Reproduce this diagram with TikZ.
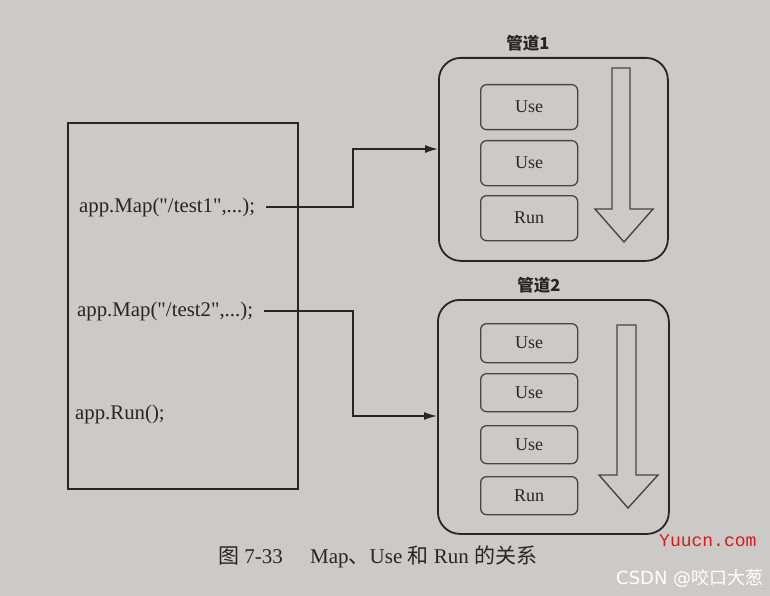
\documentclass[tikz,border=0pt]{standalone}
\usepackage{fontspec}
\setmainfont{Liberation Serif}
\newfontfamily\codefont[Ligatures=NoCommon]{Liberation Serif}
\newfontfamily\cjk{Noto Sans CJK SC}
\newfontfamily\wmsans{DejaVu Sans}
\newfontfamily\wmmono{Liberation Mono}
\usetikzlibrary{arrows.meta}
\definecolor{paper}{RGB}{203,202,199}
\definecolor{ink}{RGB}{38,38,38}
\definecolor{softink}{RGB}{70,70,70}
\definecolor{wmred}{RGB}{230,20,20}
\tikzset{
  codebox/.style={draw=ink, line width=1.8pt, minimum width=230, minimum height=366, anchor=north west, inner sep=0},
  pipebox/.style={draw=ink, line width=1.8pt, rounded corners=22, anchor=north west, inner sep=0},
  stagebox/.style={draw=softink, line width=1.3pt, rounded corners=6, minimum width=97, anchor=north west, inner sep=0, font=\fontsize{18}{20}\selectfont, text=ink},
  codetext/.style={anchor=west, inner sep=0, font=\codefont\fontsize{20.8}{23}\selectfont, text=ink},
  title/.style={inner sep=0, font=\cjk\bfseries\fontsize{16.5}{18}\selectfont, text=ink},
  conn/.style={draw=ink, line width=1.3pt, -{Latex[length=13pt,width=8pt]}},
  flow/.style={draw=softink, line width=1.4pt, line join=miter},
}
\begin{document}
\begin{tikzpicture}[x=1pt,y=-1pt]
\fill[paper] (0,0) rectangle (770,596);
\useasboundingbox (0,0) rectangle (770,596);

% left code box
\node[codebox] (code) at (67,122) {};
\node[codetext] (m1) at (79,207) {app.Map("/test1",...);};
\node[codetext] (m2) at (77,311) {app.Map("/test2",...);};
\node[codetext] (run) at (75,414) {app.Run();};

% pipeline 1
\node[pipebox, minimum width=229, minimum height=203] (p1) at (438,57) {};
\node[title] (t1) at (528,43) {管道1};
\node[stagebox, minimum height=45] (u11) at (480,84) {Use};
\node[stagebox, minimum height=45] (u12) at (480,140) {Use};
\node[stagebox, minimum height=45] (r1) at (480,195) {Run};
\draw[flow] (612,68) -- (630,68) -- (630,209) -- (653,209) -- (624,242) -- (595,209) -- (612,209) -- cycle;

% pipeline 2
\node[pipebox, minimum width=231, minimum height=234] (p2) at (437,299) {};
\node[title] (t2) at (539,285) {管道2};
\node[stagebox, minimum height=39] (u21) at (480,323) {Use};
\node[stagebox, minimum height=38] (u22) at (480,373) {Use};
\node[stagebox, minimum height=38] (u23) at (480,425) {Use};
\node[stagebox, minimum height=38] (r2) at (480,476) {Run};
\draw[flow] (617,325) -- (636,325) -- (636,475) -- (658,475) -- (628,508) -- (599,475) -- (617,475) -- cycle;

% connectors
\coordinate (k1) at (353,180);
\coordinate (e1) at (438,149);
\coordinate (k2) at (353,360);
\coordinate (e2) at (437,416);
\draw[conn] ([xshift=11pt]m1.east) -| (k1) |- (e1);
\draw[conn] ([xshift=11pt]m2.east) -| (k2) |- (e2);

% caption
\node[anchor=west, inner sep=0, text=ink, font=\fontsize{21}{23}\selectfont] (cap) at (218,557)
  {{\cjk 图} 7-33\hspace{1.3em}Map{\cjk 、}Use {\cjk 和} Run {\cjk 的关系}};

% watermarks
\node[anchor=west, inner sep=0, text=wmred, font=\wmmono\fontsize{18}{20}\selectfont] (wm1) at (659,541) {Yuucn.com};
\node[anchor=west, inner sep=0, text=white, font=\fontsize{18}{20}\selectfont] (wm2) at (616,578) {{\wmsans CSDN @}{\cjk 咬口大葱}};
\end{tikzpicture}
\end{document}
